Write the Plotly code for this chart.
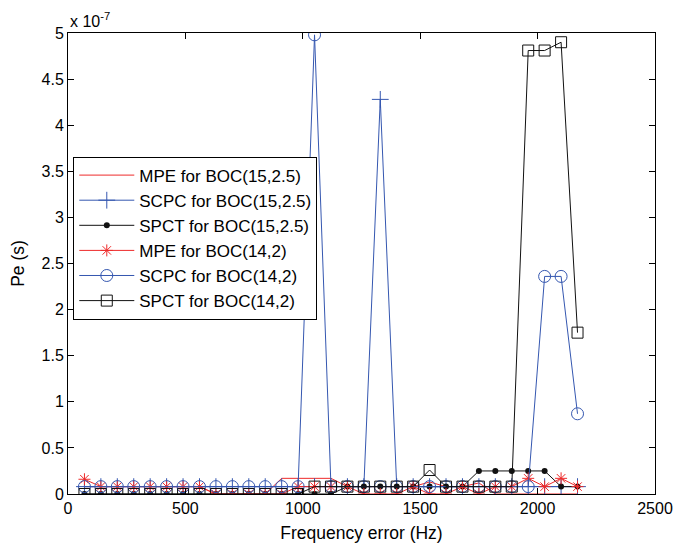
import plotly.graph_objects as go

# Frequency error samples (Hz)
freq_err = [70, 140, 210, 280, 350, 420, 490, 560, 630, 700, 770, 840, 910, 980, 1050,
            1120, 1190, 1260, 1330, 1400, 1470, 1540, 1610, 1680, 1750, 1820, 1890,
            1960, 2030, 2100, 2170]

# Pe values in units of 1e-7 s
mpe_boc15 = [0.08, 0.08, 0.08, 0.08, 0.08, 0.08, 0.08, 0.08, 0, 0, 0, 0, 0.17, 0.17, 0.17,
             0.17, 0.08, 0.08, 0.08, 0.08, 0.08, 0.13, 0.08, 0.08, 0.12, 0, 0, 0, 0, 0, 0]
scpc_boc15 = [0.08, 0.08, 0.08, 0.08, 0.08, 0.08, 0.08, 0.08, 0.08, 0.08, 0.08, 0.08, 0.08,
              0.08, 0.08, 0.08, 0.08, 0.08, 4.28, 0.08, 0.08, 0.08, 0.08, 0.08, 0.08, 0.08,
              0.08, 0.08, 0.08, 0.08, 0.08]
spct_boc15 = [0, 0, 0, 0, 0, 0, 0, 0, 0, 0, 0, 0, 0, 0, 0, 0, 0.08, 0.08, 0.08, 0.08, 0.08,
              0.08, 0.08, 0.08, 0.25, 0.25, 0.25, 0.25, 0.25, 0.08, 0.08]
mpe_boc14 = [0.16, 0.08, 0.08, 0.08, 0.08, 0.08, 0.08, 0.08, 0, 0, 0, 0, 0, 0.08, 0.08,
             0.08, 0.08, 0, 0, 0, 0.08, 0, 0, 0.08, 0, 0.08, 0.08, 0.17, 0.08, 0.17, 0.08]
scpc_boc14 = [0.08, 0.08, 0.08, 0.08, 0.08, 0.08, 0.08, 0.08, 0.08, 0.08, 0.08, 0.08, 0.08,
              0.08, 4.98, 0.08, 0.08, 0.08, 0.08, 0.08, 0.08, 0.08, 0.08, 0.08, 0.08, 0.08,
              0.08, 0.08, 2.36, 2.36, 0.87]
spct_boc14 = [0, 0, 0, 0, 0, 0, 0, 0, 0, 0, 0, 0, 0, 0, 0.08, 0.08, 0.08, 0.08, 0.08, 0.08,
              0.08, 0.26, 0.08, 0.08, 0.08, 0.08, 0.08, 4.81, 4.81, 4.90, 1.75]

x_ticks = [0, 500, 1000, 1500, 2000, 2500]
y_ticks = [0, 0.5, 1, 1.5, 2, 2.5, 3, 3.5, 4, 4.5, 5]
y_ticktext = ["0", "0.5", "1", "1.5", "2", "2.5", "3", "3.5", "4", "4.5", "5"]

RED = "#ee2a2a"
BLUE = "#3557b0"
BLACK = "#111111"
FONT = "Liberation Sans, Arial, sans-serif"

series = [
    ("MPE for BOC(15,2.5)", mpe_boc15, RED, None, 0, 0),
    ("SCPC for BOC(15,2.5)", scpc_boc15, BLUE, "cross-thin-open", 12, 1),
    ("SPCT for BOC(15,2.5)", spct_boc15, BLACK, "circle", 6, 0),
    ("MPE for BOC(14,2)", mpe_boc14, RED, "asterisk-open", 10, 1),
    ("SCPC for BOC(14,2)", scpc_boc14, BLUE, "circle-open", 12, 1),
    ("SPCT for BOC(14,2)", spct_boc14, BLACK, "square-open", 11, 1),
]

fig = go.Figure()
for i, (name, vals, color, symbol, size, mlw) in enumerate(series):
    mode = "lines" if symbol is None else "lines+markers"
    tr = dict(x=freq_err, y=vals, name=name, mode=mode,
              line=dict(color=color, width=1), legendgroup=f"g{i}")
    if symbol is not None:
        tr["marker"] = dict(symbol=symbol, size=size, color=color,
                            line=dict(color=color, width=mlw))
    fig.add_trace(go.Scatter(**tr))

axis_common = dict(
    showline=True, linecolor="black", linewidth=1, mirror="allticks",
    ticks="inside", ticklen=6, tickwidth=1, tickcolor="black",
    showgrid=False, zeroline=False, automargin=False,
    tickfont=dict(family=FONT, size=16, color="black"),
)

fig.update_xaxes(range=[0, 2500], tickvals=x_ticks,
                 title=dict(text="Frequency error (Hz)",
                            font=dict(family=FONT, size=17.5, color="black"),
                            standoff=10),
                 **axis_common)
fig.update_yaxes(range=[0, 5], tickvals=y_ticks, ticktext=y_ticktext,
                 title=dict(text="Pe (s)",
                            font=dict(family=FONT, size=17.5, color="black"),
                            standoff=12),
                 **axis_common)

fig.add_annotation(xref="paper", yref="paper", x=0.0, y=1.0, xanchor="left",
                   yanchor="bottom", yshift=1, showarrow=False,
                   text="x 10<sup>-7</sup>",
                   font=dict(family=FONT, size=16, color="black"))

fig.update_layout(
    width=674, height=550,
    margin=dict(l=68, r=19, t=33, b=56),
    paper_bgcolor="white", plot_bgcolor="white",
    font=dict(family=FONT, color="black"),
    legend=dict(x=0.009, y=0.732, xanchor="left", yanchor="top",
                bgcolor="white", bordercolor="black", borderwidth=1,
                font=dict(family=FONT, size=17, color="black"),
                itemwidth=55, tracegroupgap=3, traceorder="normal"),
)

fig.write_html("out.html")
